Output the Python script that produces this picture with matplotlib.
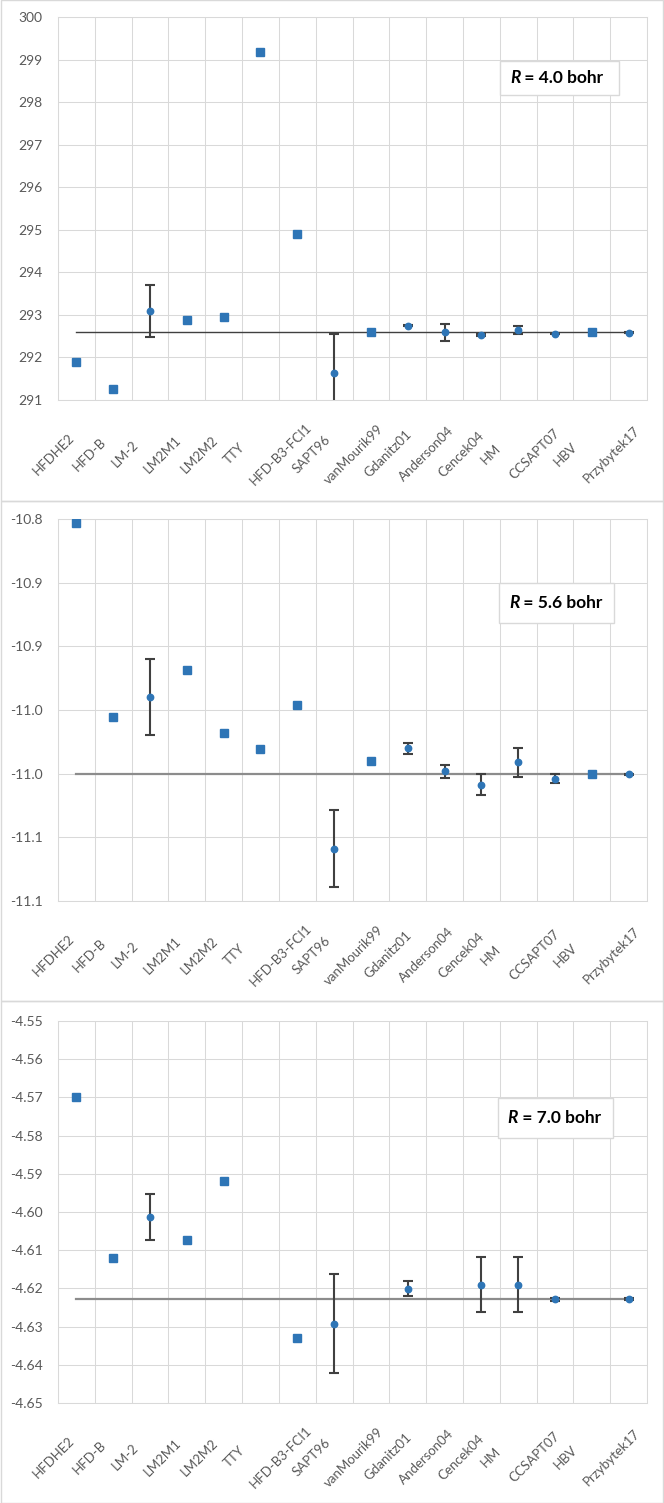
import numpy as np
import matplotlib
matplotlib.use('Agg')
import matplotlib.pyplot as plt
from matplotlib.patches import Rectangle
from matplotlib.transforms import ScaledTranslation

plt.rcParams['font.family'] = ['Lato', 'DejaVu Sans']

nan = np.nan
methods = ['HFDHE2', 'HFD-B', 'LM-2', 'LM2M1', 'LM2M2', 'TTY', 'HFD-B3-FCI1', 'SAPT96',
           'vanMourik99', 'Gdanitz01', 'Anderson04', 'Cencek04', 'HM', 'CCSAPT07', 'HBV', 'Przybytek17']

# R = 4.0 bohr
fit_40 = [291.89, 291.26, nan, 292.87, 292.94, 299.18, 294.90, nan,
          292.59, nan, nan, nan, nan, nan, 292.59, nan]
ab_40 = [nan, nan, 293.10, nan, nan, nan, nan, 291.64,
         nan, 292.75, 292.59, 292.53, 292.64, 292.56, nan, 292.58]
err_40 = [0, 0, 0.61, 0, 0, 0, 0, 0.92, 0, 0.02, 0.20, 0.02, 0.09, 0.01, 0, 0.01]
ref_40 = 292.59
yticks_40 = [291, 292, 293, 294, 295, 296, 297, 298, 299, 300]
ylabels_40 = ['291', '292', '293', '294', '295', '296', '297', '298', '299', '300']

# R = 5.6 bohr
fit_56 = [-10.8034, -10.9552, nan, -10.9188, -10.9683, -10.9804, -10.9461, nan,
          -10.9901, nan, nan, nan, nan, nan, -11.0005, nan]
ab_56 = [nan, nan, -10.9398, nan, nan, nan, nan, -11.0589,
         nan, -10.9802, -10.9982, -11.0088, -10.9910, -11.0038, nan, -11.0006]
err_56 = [0, 0, 0.030, 0, 0, 0, 0, 0.030, 0, 0.004, 0.005, 0.0083, 0.0113, 0.0034, 0, 0.0003]
ref_56 = -11.0006
yticks_56 = [-11.10, -11.05, -11.00, -10.95, -10.90, -10.85, -10.80]
ylabels_56 = ['-11.1', '-11.1', '-11.0', '-11.0', '-10.9', '-10.9', '-10.8']

# R = 7.0 bohr
fit_70 = [-4.5700, -4.6120, nan, -4.6073, -4.5918, nan, -4.6331, nan,
          nan, nan, nan, nan, nan, nan, nan, nan]
ab_70 = [nan, nan, -4.6012, nan, nan, nan, nan, -4.6292,
         nan, -4.6201, nan, -4.6191, -4.6191, -4.6228, nan, -4.6228]
err_70 = [0, 0, 0.006, 0, 0, 0, 0, 0.013, 0, 0.002, 0, 0.0072, 0.0072, 0.0004, 0, 0.0002]
ref_70 = -4.6228
yticks_70 = [-4.65, -4.64, -4.63, -4.62, -4.61, -4.60, -4.59, -4.58, -4.57, -4.56, -4.55]
ylabels_70 = ['-4.65', '-4.64', '-4.63', '-4.62', '-4.61', '-4.60', '-4.59', '-4.58', '-4.57', '-4.56', '-4.55']

tags = ['4.0', '5.6', '7.0']

BLUE = '#2E75B6'
GRID = '#d9d9d9'
TXT = '#595959'

W, H = 664, 1503
fig = plt.figure(figsize=(W / 100, H / 100), dpi=100)

# plot areas in pixels: (left, top, right, bottom)
areas = [(58, 17, 647, 400), (58, 519, 647, 901), (58, 1021, 647, 1403)]
# chart frames in pixels (top, bottom)
frames = [(0.5, 501), (501, 1001), (1001, 1502.5)]
# label boxes in axes fraction (x0, y0, x1, y1)
boxes = [(0.750, 0.797, 0.952, 0.886), (0.749, 0.728, 0.944, 0.832), (0.747, 0.694, 0.942, 0.798)]
ref_style = [('#404040', 1.0), ('#8c8c8c', 1.6), ('#8c8c8c', 1.6)]

for top, bot in frames:
    fig.add_artist(Rectangle((0.5 / W, 1 - bot / H), (W - 1.5) / W, (bot - top) / H,
                             transform=fig.transFigure, fc='none', ec=GRID, lw=1))


def panel(k, fit, ab, err, ref, yticks, ylabels):
    l, t, r, b = areas[k]
    ax = fig.add_axes([l / W, 1 - b / H, (r - l) / W, (b - t) / H])
    x = np.arange(len(methods))
    ax.set_xlim(-0.5, len(methods) - 0.5)
    ax.set_ylim(yticks[0], yticks[-1])

    col, lw = ref_style[k]
    ax.plot([x[0], x[-1]], [ref, ref], color=col, lw=lw, zorder=2)
    ax.errorbar(x, ab, yerr=err, fmt='none', ecolor='#404040', elinewidth=1.5,
                capsize=3.3, capthick=1.5, zorder=3)
    ax.plot(x, fit, 's', ms=5.5, color=BLUE, zorder=4)
    ax.plot(x, ab, 'o', ms=4.6, color=BLUE, zorder=4)

    ax.set_yticks(yticks, ylabels)
    ax.set_xticks(x)
    ax.set_xticklabels(methods, rotation=45, rotation_mode='anchor', ha='center', va='center')
    ax.set_xticks(np.arange(-0.5, len(methods), 1), minor=True)
    ax.tick_params(which='both', length=0)
    ax.tick_params(axis='x', pad=39, labelsize=9.5, labelcolor=TXT)
    ax.tick_params(axis='y', pad=11, labelsize=10, labelcolor=TXT)
    for lab in ax.get_xticklabels():
        dx = (-30 + 1.2 * len(lab.get_text())) / 100
        lab.set_transform(lab.get_transform() + ScaledTranslation(dx, 0, fig.dpi_scale_trans))

    ax.grid(which='minor', axis='x', color=GRID, lw=0.75)
    ax.grid(which='major', axis='y', color=GRID, lw=0.75)
    ax.set_axisbelow(True)
    for s in ax.spines.values():
        s.set_color(GRID)
        s.set_linewidth(0.75)

    x0, y0, x1, y1 = boxes[k]
    ax.add_patch(Rectangle((x0, y0), x1 - x0, y1 - y0, transform=ax.transAxes,
                           fc='white', ec=GRID, lw=1, zorder=5, clip_on=False))
    t1 = ax.text(x0 + 0.085 * (x1 - x0), (y0 + y1) / 2, 'R', transform=ax.transAxes,
                 ha='left', va='center', fontsize=12.5, fontweight='bold', style='italic', zorder=6)
    ax.annotate(' = ' + tags[k] + ' bohr', xy=(1, 0), xycoords=t1, ha='left', va='bottom',
                fontsize=12.5, fontweight='bold', zorder=6)


panel(0, fit_40, ab_40, err_40, ref_40, yticks_40, ylabels_40)
panel(1, fit_56, ab_56, err_56, ref_56, yticks_56, ylabels_56)
panel(2, fit_70, ab_70, err_70, ref_70, yticks_70, ylabels_70)

fig.savefig('out.png', dpi=100)
